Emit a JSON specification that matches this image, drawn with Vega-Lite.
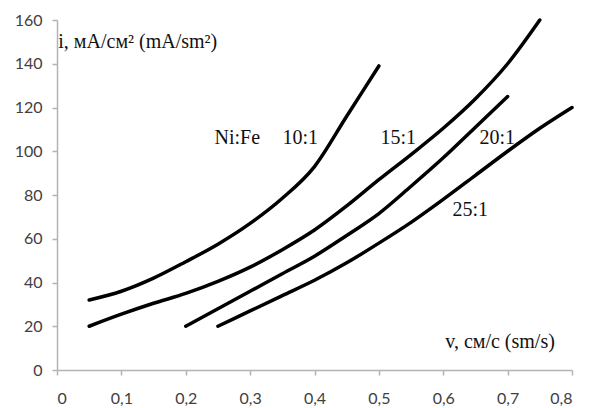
{
  "$schema": "https://vega.github.io/schema/vega-lite/v6.json",
  "width": 515,
  "height": 350,
  "autosize": {"type": "none"},
  "padding": {"left": 57, "top": 20, "right": 17, "bottom": 38},
  "background": "white",
  "config": {"view": {"stroke": null}},
  "datasets": {
    "curves": [
      {"ratio": "10:1", "v": 0.05, "i": 32},
      {"ratio": "10:1", "v": 0.1, "i": 36},
      {"ratio": "10:1", "v": 0.15, "i": 42},
      {"ratio": "10:1", "v": 0.2, "i": 49.5},
      {"ratio": "10:1", "v": 0.25, "i": 57.5},
      {"ratio": "10:1", "v": 0.3, "i": 67},
      {"ratio": "10:1", "v": 0.35, "i": 78.5},
      {"ratio": "10:1", "v": 0.4, "i": 93},
      {"ratio": "10:1", "v": 0.45, "i": 116},
      {"ratio": "10:1", "v": 0.5, "i": 139},
      {"ratio": "15:1", "v": 0.05, "i": 20},
      {"ratio": "15:1", "v": 0.1, "i": 25.5},
      {"ratio": "15:1", "v": 0.15, "i": 30.5},
      {"ratio": "15:1", "v": 0.2, "i": 35},
      {"ratio": "15:1", "v": 0.25, "i": 40.5},
      {"ratio": "15:1", "v": 0.3, "i": 47},
      {"ratio": "15:1", "v": 0.35, "i": 55},
      {"ratio": "15:1", "v": 0.4, "i": 64},
      {"ratio": "15:1", "v": 0.45, "i": 75},
      {"ratio": "15:1", "v": 0.5, "i": 87},
      {"ratio": "15:1", "v": 0.55, "i": 98.5},
      {"ratio": "15:1", "v": 0.6, "i": 110.5},
      {"ratio": "15:1", "v": 0.65, "i": 124},
      {"ratio": "15:1", "v": 0.7, "i": 140},
      {"ratio": "15:1", "v": 0.75, "i": 160},
      {"ratio": "20:1", "v": 0.2, "i": 20},
      {"ratio": "20:1", "v": 0.25, "i": 28},
      {"ratio": "20:1", "v": 0.3, "i": 36},
      {"ratio": "20:1", "v": 0.35, "i": 44},
      {"ratio": "20:1", "v": 0.4, "i": 52},
      {"ratio": "20:1", "v": 0.45, "i": 61.5},
      {"ratio": "20:1", "v": 0.5, "i": 71.5},
      {"ratio": "20:1", "v": 0.55, "i": 84},
      {"ratio": "20:1", "v": 0.6, "i": 97},
      {"ratio": "20:1", "v": 0.65, "i": 111},
      {"ratio": "20:1", "v": 0.7, "i": 125},
      {"ratio": "25:1", "v": 0.25, "i": 20},
      {"ratio": "25:1", "v": 0.3, "i": 27},
      {"ratio": "25:1", "v": 0.35, "i": 34},
      {"ratio": "25:1", "v": 0.4, "i": 41},
      {"ratio": "25:1", "v": 0.45, "i": 49},
      {"ratio": "25:1", "v": 0.5, "i": 58},
      {"ratio": "25:1", "v": 0.55, "i": 67.5},
      {"ratio": "25:1", "v": 0.6, "i": 78},
      {"ratio": "25:1", "v": 0.65, "i": 89},
      {"ratio": "25:1", "v": 0.7, "i": 100},
      {"ratio": "25:1", "v": 0.75, "i": 110.5},
      {"ratio": "25:1", "v": 0.8, "i": 120}
    ],
    "curveLabels": [
      {"text": "Ni:Fe", "v": 0.28, "i": 106},
      {"text": "10:1", "v": 0.378, "i": 106},
      {"text": "15:1", "v": 0.53, "i": 106},
      {"text": "20:1", "v": 0.684, "i": 106},
      {"text": "25:1", "v": 0.642, "i": 73}
    ],
    "axisTitles": [
      {"text": "i, мА/см² (mA/sm²)", "v": 0.002, "i": 150},
      {"text": "v, см/с (sm/s)", "v": 0.603, "i": 12.8}
    ]
  },
  "layer": [
    {
      "data": {"name": "curves"},
      "mark": {"type": "line", "color": "black", "strokeWidth": 3.5, "interpolate": "monotone", "strokeCap": "round"},
      "encoding": {
        "x": {
          "field": "v", "type": "quantitative",
          "scale": {"domain": [0, 0.8], "nice": false},
          "axis": {
            "title": null, "grid": false, "values": [0, 0.1, 0.2, 0.3, 0.4, 0.5, 0.6, 0.7, 0.8],
            "labelExpr": "datum.value == 0 ? '0' : replace(format(datum.value, '.1f'), '.', ',')",
            "domainColor": "#b3b3b3", "domainWidth": 1.5, "tickColor": "#b3b3b3", "tickWidth": 1.5, "tickSize": 5,
            "labelFont": "Lato", "labelFontSize": 16, "labelColor": "#404040", "labelPadding": 15
          }
        },
        "y": {
          "field": "i", "type": "quantitative",
          "scale": {"domain": [0, 160], "nice": false},
          "axis": {
            "title": null, "grid": false, "values": [0, 20, 40, 60, 80, 100, 120, 140, 160],
            "domainColor": "#b3b3b3", "domainWidth": 1.5, "tickColor": "#b3b3b3", "tickWidth": 1.5, "tickSize": 5,
            "labelFont": "Lato", "labelFontSize": 16, "labelColor": "#404040", "labelPadding": 10
          }
        },
        "detail": {"field": "ratio"}
      }
    },
    {
      "data": {"name": "curveLabels"},
      "mark": {"type": "text", "font": "Liberation Serif", "fontSize": 20, "color": "#111111", "baseline": "middle", "align": "center"},
      "encoding": {
        "x": {"field": "v", "type": "quantitative"},
        "y": {"field": "i", "type": "quantitative"},
        "text": {"field": "text"}
      }
    },
    {
      "data": {"name": "axisTitles"},
      "mark": {"type": "text", "font": "Liberation Serif", "fontSize": 20, "color": "#111111", "baseline": "middle", "align": "left"},
      "encoding": {
        "x": {"field": "v", "type": "quantitative"},
        "y": {"field": "i", "type": "quantitative"},
        "text": {"field": "text"}
      }
    }
  ]
}
